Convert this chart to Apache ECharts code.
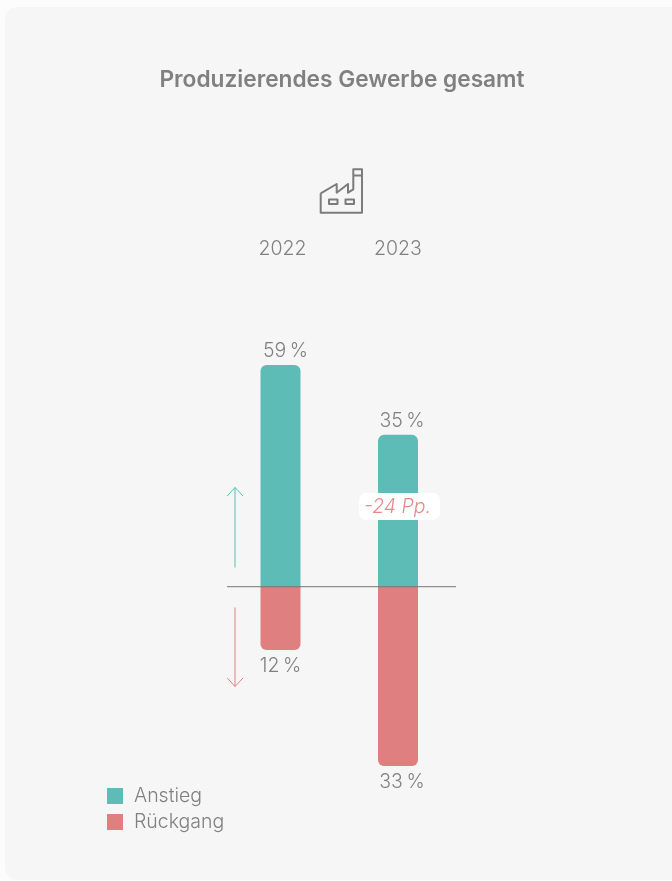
<!DOCTYPE html>
<html><head><meta charset="utf-8">
<style>html,body{margin:0;padding:0;background:#fcfcfc;overflow:hidden}#c{width:672px;height:881px}</style>
<script src="https://cdn.jsdelivr.net/npm/echarts@6/dist/echarts.min.js"></script>
</head><body><div id="c"></div>
<script>
// Printed labels (the values the reference states)
const categories = ['2022', '2023'];
const printedAnstieg = ['59\u2009%', '35\u2009%'];
const printedRueckgang = ['12\u2009%', '33\u2009%'];
const deltaLabel = '-24 Pp.';
// Bar lengths as measured in the picture (the reference does not draw to a common scale)
const drawnAnstieg = [59, 40.4];
const drawnRueckgang = [-16.9, -47.8];

const grey = '#808080', teal = '#5dbdb6', red = '#e07f7f', font = 'Inter';
const chart = echarts.init(document.getElementById('c'), null, {renderer: 'canvas'});
const upShift = [5, 4], downShift = [0, 4];

function opts() {
  return {
    backgroundColor: 'transparent',
    animation: false,
    title: {text: 'Produzierendes Gewerbe gesamt', left: 337, top: 64, textAlign: 'center',
      textStyle: {fontFamily: font, fontSize: 22.7, fontWeight: 600, color: grey}},
    legend: {orient: 'vertical', left: 107, top: 786, padding: 0, itemWidth: 16, itemHeight: 16, itemGap: 6,
      icon: 'rect', selectedMode: false,
      textStyle: {fontFamily: font, fontWeight: 300, fontSize: 19.5, color: grey, padding: [0, 0, 0, 6]}},
    grid: {left: 221.75, width: 235, top: 286.2, height: 525.6},
    xAxis: {type: 'category', position: 'top',
      data: categories.map((c, i) => i === 0 ? {value: c, textStyle: {padding: [0, 0, 0, 4]}} : c),
      axisLine: {show: false}, axisTick: {show: false},
      axisLabel: {margin: 27, fontFamily: font, fontWeight: 300, fontSize: 19.5, color: grey}},
    yAxis: {type: 'value', min: -60, max: 80, show: false},
    series: [
      {name: 'Anstieg', type: 'bar', stack: 'a', barWidth: 40,
        data: drawnAnstieg.map((v, i) => ({value: v, label: {offset: [upShift[i], 0]}})),
        itemStyle: {color: teal, borderRadius: [6, 6, 0, 0]},
        label: {show: true, position: 'top', distance: 3.5,
          fontFamily: font, fontWeight: 300, fontSize: 19.5, color: grey,
          formatter: p => printedAnstieg[p.dataIndex]}},
      {name: 'Rückgang', type: 'bar', stack: 'a', barWidth: 40,
        data: drawnRueckgang.map((v, i) => ({value: v, label: {offset: [downShift[i], 0]}})),
        itemStyle: {color: red, borderRadius: [0, 0, 6, 6]},
        label: {show: true, position: 'bottom', distance: 6,
          fontFamily: font, fontWeight: 300, fontSize: 19.5, color: grey,
          formatter: p => printedRueckgang[p.dataIndex]}}
    ]
  };
}
chart.setOption(opts());
const y0 = chart.convertToPixel({yAxisIndex: 0}, 0);
const x2023 = chart.convertToPixel({xAxisIndex: 0}, 1);
const line = {fill: null, stroke: '#7c7c7c', lineWidth: 2, lineJoin: 'round'};
chart.setOption({graphic: {elements: [
  {type: 'rect', z: -10, silent: true, shape: {x: 5, y: 7, width: 700, height: 873, r: 12}, style: {fill: '#f6f6f6'}},
  {type: 'polyline', z: 5, shape: {points: [[320.7,193.3],[320.7,212.7],[362,212.7],[362,169.3],[353.3,169.3],[353.3,189.3],[348,192.7],[348,184],[336.7,192.7],[336.7,184],[320.7,193.3]]}, style: line},
  {type: 'line', z: 5, shape: {x1: 353.3, y1: 175.5, x2: 362, y2: 175.5}, style: line},
  {type: 'rect', z: 5, shape: {x: 329, y: 199.5, width: 8.5, height: 4.5}, style: line},
  {type: 'rect', z: 5, shape: {x: 345.5, y: 199.5, width: 8.5, height: 4.5}, style: line},
  {type: 'polyline', z: 5, shape: {points: [[235,567.5],[235,487.5]]}, style: {fill: null, stroke: '#5dbdb6', lineWidth: 1}},
  {type: 'polyline', z: 5, shape: {points: [[227.3,496],[235,487.5],[243,496]]}, style: {fill: null, stroke: '#5dbdb6', lineWidth: 1}},
  {type: 'polyline', z: 5, shape: {points: [[235,607.5],[235,686.5]]}, style: {fill: null, stroke: '#e07f7f', lineWidth: 1}},
  {type: 'polyline', z: 5, shape: {points: [[227.3,678],[235,686.5],[243,678]]}, style: {fill: null, stroke: '#e07f7f', lineWidth: 1}},
  {type: 'line', z: 6, shape: {x1: 227, y1: y0, x2: 456, y2: y0}, style: {stroke: 'rgba(110,110,110,0.75)', lineWidth: 1.3}},
  {type: 'rect', z: 6, shape: {x: 359, y: 493, width: 81, height: 27, r: 7}, style: {fill: '#fff'}},
  {type: 'text', z: 7, x: x2023 - 0.5, y: 507, style: {text: deltaLabel, fill: '#e58a8a', align: 'center', verticalAlign: 'middle',
    fontFamily: font, fontStyle: 'italic', fontWeight: 300, fontSize: 19.5}}
]}});
</script></body></html>
